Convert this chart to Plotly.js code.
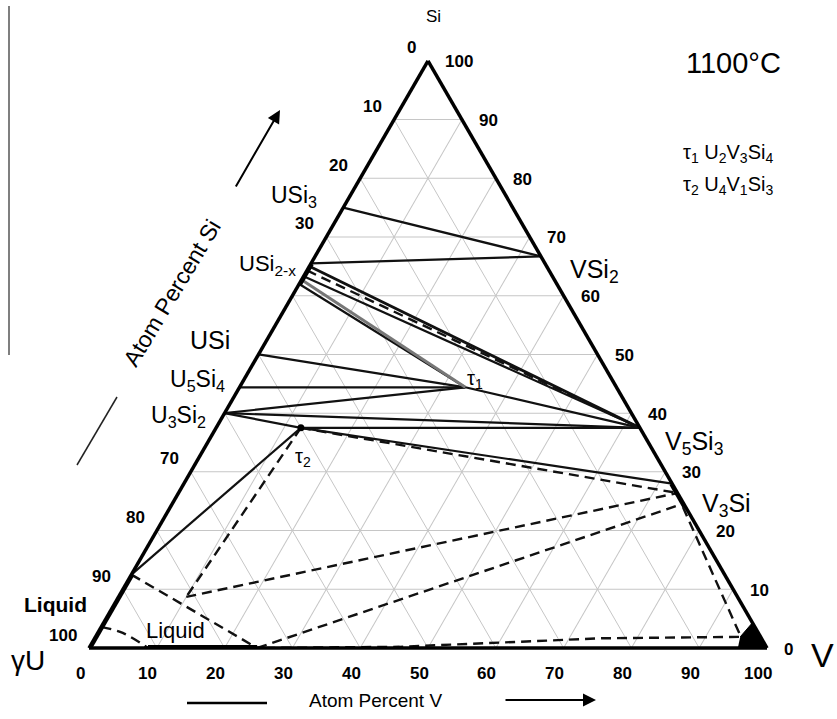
<!DOCTYPE html>
<html><head><meta charset="utf-8">
<script src="https://cdn.plot.ly/plotly-3.0.1.min.js"></script>
<style>html,body{margin:0;padding:0;background:#fff}#chart{width:837px;height:719px}</style>
</head><body><div id="chart"></div>
<script>
// Compositions as [at.% Si, at.% V]; U is the balance (100 - Si - V)
const USi3    = [75.0, 0];
const USi2xA  = [65.5, 0];
const USi2xB  = [65.0, 0];
const USi2xC  = [64.3, 0];
const USi2xD  = [63.3, 0];
const USi2xE  = [62.7, 0];
const USi2xF  = [62.0, 0];
const USi     = [50.0, 0];
const U5Si4   = [44.4, 0];
const U3Si2   = [40.0, 0];
const VSi2    = [66.7, 33.3];
const V5Si3   = [37.5, 62.5];
const tau1    = [44.4, 33.3];
const tau2    = [37.5, 12.5];
const V3SiHi  = [28.0, 72.0];
const V3SiMid = [26.4, 73.6];
const V3SiLo  = [24.6, 75.4];
const V3SiEnd = [24.2, 75.8];
const liqEdgeU = [12.5, 0];     // end of liquid range on U-Si side
const liqP     = [8.7, 10.0];   // corner point of the three-phase field
const liqEdgeV = [0, 24.8];     // end of liquid range on U-V side
const liqCurve = [[3.6, 0], [2.56, 3.7], [0, 8.7]];
const vssBoundary = [[24.0, 75.6], [1.9, 95.2], [1.65, 74.7], [0.2, 45.7], [0, 24.8]];
const vssRegion = [[0, 95.7], [0, 100], [4.3, 95.7], [1.9, 95.1]];

const solidTies = [
  [USi3, VSi2], [USi2xA, VSi2], [USi2xD, V5Si3], [USi2xF, tau1],
  [USi, tau1], [U5Si4, tau1], [U3Si2, tau1], [U3Si2, V5Si3], [tau1, V5Si3],
  [U3Si2, tau2], [tau2, V5Si3], [tau2, V3SiHi], [liqEdgeU, tau2]
];
const heavyTies = [[USi2xB, V5Si3]];
const grayTies = [[USi2xE, tau1]];
const dashedTies = [
  [USi2xC, V5Si3], [tau2, V3SiMid], [liqP, V3SiMid], [liqEdgeV, V3SiLo],
  [tau2, liqP], [liqEdgeU, liqEdgeV]
];
const thickEdges = [[[0, 0], liqEdgeU], [[0, 8.7], liqEdgeV], [V3SiHi, V3SiEnd], [USi2xF, USi2xA]];

const leftTicks = [0, 10, 20, 30, 70, 80, 90, 100];     // at.% U along the U-Si side
const rightTicks = [0, 10, 20, 30, 40, 50, 60, 70, 80, 90, 100]; // at.% Si
const bottomTicks = [0, 10, 20, 30, 40, 50, 60, 70, 80, 90, 100]; // at.% V

function tern(pts) {
  return {a: pts.map(p => p[0]), b: pts.map(p => 100 - p[0] - p[1]), c: pts.map(p => p[1])};
}
function lineTrace(pts, line, extra) {
  return Object.assign({type: 'scatterternary', mode: 'lines', hoverinfo: 'skip', line: line}, tern(pts), extra || {});
}

const traces = [];
solidTies.forEach(t => traces.push(lineTrace(t, {color: '#111', width: 2.2})));
heavyTies.forEach(t => traces.push(lineTrace(t, {color: '#111', width: 2.8})));
grayTies.forEach(t => traces.push(lineTrace(t, {color: '#777', width: 3})));
dashedTies.forEach(t => traces.push(lineTrace(t, {color: '#111', width: 2.4, dash: '10px,6px'})));
traces.push(lineTrace(liqCurve, {color: '#111', width: 2.4, dash: '10px,6px', shape: 'spline'}));
traces.push(lineTrace(vssBoundary, {color: '#111', width: 2.4, dash: '10px,6px'}));
thickEdges.forEach(t => traces.push(lineTrace(t, {color: '#000', width: 6}, {cliponaxis: false})));
traces.push(Object.assign({type: 'scatterternary', mode: 'lines', fill: 'toself', fillcolor: '#000',
  line: {color: '#000', width: 1}, hoverinfo: 'skip', cliponaxis: false}, tern(vssRegion)));
traces.push(Object.assign({type: 'scatterternary', mode: 'markers', hoverinfo: 'skip',
  marker: {color: '#000', size: 7}}, tern([tau2])));

// geometry of the triangle on the page (pixels)
const PW = 837, PH = 719, X0 = 89, Y0 = 648, TW = 678, TH = 678 * Math.sqrt(3) / 2;
function toPaper(xp, yp) { return [xp / PW, 1 - yp / PH]; }
function ternPix(si, v) { return [X0 + (v + si / 2) / 100 * TW, Y0 - si / 100 * TH]; }

const FONT = 'Liberation Sans, Arial, sans-serif';
const annotations = [];
function txt(text, xp, yp, size, opts) {
  const p = toPaper(xp, yp);
  annotations.push(Object.assign({xref: 'paper', yref: 'paper', x: p[0], y: p[1], text: text,
    showarrow: false, xanchor: 'center', yanchor: 'middle',
    font: {family: FONT, size: size, color: '#000'}}, opts || {}));
}
leftTicks.forEach(u => { const q = ternPix(100 - u, 0);
  txt('<b>' + u + '</b>', q[0], q[1], 17, {xanchor: 'right', xshift: -10, yshift: 13}); });
rightTicks.forEach(s => { const q = ternPix(s, 100 - s);
  txt('<b>' + s + '</b>', q[0], q[1], 17, {xanchor: 'left', xshift: 15, yshift: -1}); });
bottomTicks.forEach(v => { const q = ternPix(0, v);
  txt('<b>' + v + '</b>', q[0], q[1], 17, {xshift: -9, yshift: -25}); });

txt('Si', 433, 17, 17);
txt('1100°C', 733, 63, 29);
txt('τ<sub>1</sub> U<sub>2</sub>V<sub>3</sub>Si<sub>4</sub>', 728, 154, 20);
txt('τ<sub>2</sub> U<sub>4</sub>V<sub>1</sub>Si<sub>3</sub>', 728, 185, 20);
txt('USi<sub>3</sub>', 294, 196, 23);
txt('USi<sub>2-x</sub>', 267, 265, 22);
txt('USi', 210, 340, 25);
txt('U<sub>5</sub>Si<sub>4</sub>', 197, 380, 23);
txt('U<sub>3</sub>Si<sub>2</sub>', 178, 416, 23);
txt('τ<sub>1</sub>', 475, 379, 20);
txt('τ<sub>2</sub>', 303, 457, 20);
txt('VSi<sub>2</sub>', 594, 271, 25);
txt('V<sub>5</sub>Si<sub>3</sub>', 694, 443, 25);
txt('V<sub>3</sub>Si', 726, 505, 25);
txt('V', 822, 655, 34);
txt('γU', 28, 660, 28);
txt('<b>Liquid</b>', 55, 604, 21);
txt('Liquid', 175, 630, 22);
txt('Atom Percent V', 375, 700, 19);
txt('Atom Percent Si', 172, 293, 23, {textangle: -59});

function arrow(xh, yh, ax, ay) {
  const p = toPaper(xh, yh);
  annotations.push({xref: 'paper', yref: 'paper', x: p[0], y: p[1], ax: ax, ay: ay, text: '',
    showarrow: true, arrowhead: 2, arrowsize: 1.3, arrowwidth: 2, arrowcolor: '#000'});
}
arrow(280, 110, -45, 78);
arrow(596, 700, -92, 0);

function seg2(x1, y1, x2, y2, color, width) {
  const p = toPaper(x1, y1), q = toPaper(x2, y2);
  return {type: 'line', xref: 'paper', yref: 'paper', x0: p[0], y0: p[1], x1: q[0], y1: q[1],
    line: {color: color, width: width}};
}
const shapes = [
  seg2(9, 6, 9, 355, '#555', 1.5),
  seg2(117, 397, 77, 465, '#222', 1.5),
  seg2(187, 703, 267, 703, '#000', 2.5)
];

const axisCommon = {min: 0, linewidth: 3.5, linecolor: '#000', showgrid: true, gridcolor: '#c6c6c6',
  gridwidth: 1, tickmode: 'linear', tick0: 0, dtick: 10, showticklabels: false, ticks: '', title: {text: ''}};

const layout = {
  width: PW, height: PH, margin: {l: 0, r: 0, t: 0, b: 0}, showlegend: false,
  paper_bgcolor: '#fff',
  ternary: {
    sum: 100, bgcolor: '#fff',
    domain: {x: [X0 / PW, (X0 + TW) / PW], y: [(PH - Y0) / PH, (PH - Y0 + TH) / PH]},
    aaxis: Object.assign({}, axisCommon),
    baxis: Object.assign({}, axisCommon),
    caxis: Object.assign({}, axisCommon)
  },
  annotations: annotations,
  shapes: shapes
};
Plotly.newPlot('chart', traces, layout, {displayModeBar: false, staticPlot: true});
</script></body></html>
